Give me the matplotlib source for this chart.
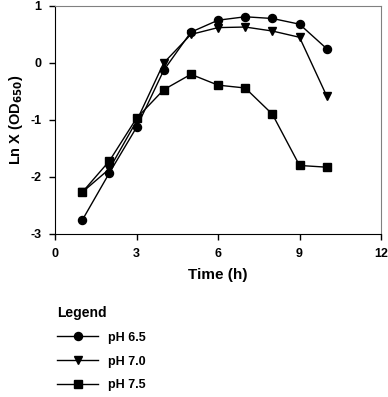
import matplotlib
matplotlib.use('Agg')
import matplotlib.pyplot as plt

plt.rcParams['font.family'] = ['Liberation Sans', 'DejaVu Sans']
plt.rcParams['font.weight'] = 'bold'
plt.rcParams['axes.unicode_minus'] = False

time_h = [1, 2, 3, 4, 5, 6, 7, 8, 9, 10]
ph65 = [-2.76, -1.93, -1.13, -0.13, 0.54, 0.75, 0.81, 0.78, 0.68, 0.25]
ph70 = [-2.27, -1.86, -1.02, 0.0, 0.5, 0.62, 0.63, 0.56, 0.45, -0.58]
ph75 = [-2.27, -1.72, -0.97, -0.47, -0.2, -0.39, -0.44, -0.9, -1.8, -1.83]
labels = ['pH 6.5', 'pH 7.0', 'pH 7.5']

fig = plt.figure(figsize=(3.88, 3.97), dpi=100)
ax = fig.add_axes([0.142, 0.411, 0.840, 0.574])

ax.plot(time_h, ph65, 'k-o', lw=1, ms=5.8, label=labels[0])
ax.plot(time_h, ph70, 'k-v', lw=1, ms=6.2, label=labels[1])
ax.plot(time_h, ph75, 'k-s', lw=1, ms=5.4, label=labels[2])

ax.set_xlim(0, 12)
ax.set_ylim(-3, 1)
ax.set_xticks([0, 3, 6, 9, 12])
ax.set_yticks([-3, -2, -1, 0, 1])
ax.tick_params(direction='out', length=4, width=1, labelsize=9, pad=6)
for lab in ax.get_xticklabels() + ax.get_yticklabels():
    lab.set_fontweight('bold')
for s in ['top', 'right']:
    ax.spines[s].set_color('#808080')

ax.set_xlabel('Time (h)', fontsize=11, fontweight='bold', labelpad=6)
ax.set_ylabel('Ln X (OD$_{\\mathbf{650}}$)', fontsize=10.5, fontweight='bold', labelpad=4)

h, l = ax.get_legend_handles_labels()
leg = fig.legend(h, l, loc='upper left', bbox_to_anchor=(0.118, 0.258),
                 frameon=False, title='Legend', alignment='left',
                 prop={'size': 9, 'weight': 'bold'}, handlelength=3.3,
                 labelspacing=0.95, handletextpad=0.8)
leg.get_title().set_fontsize(10)
leg.get_title().set_fontweight('bold')

fig.savefig('out.png', dpi=100)
